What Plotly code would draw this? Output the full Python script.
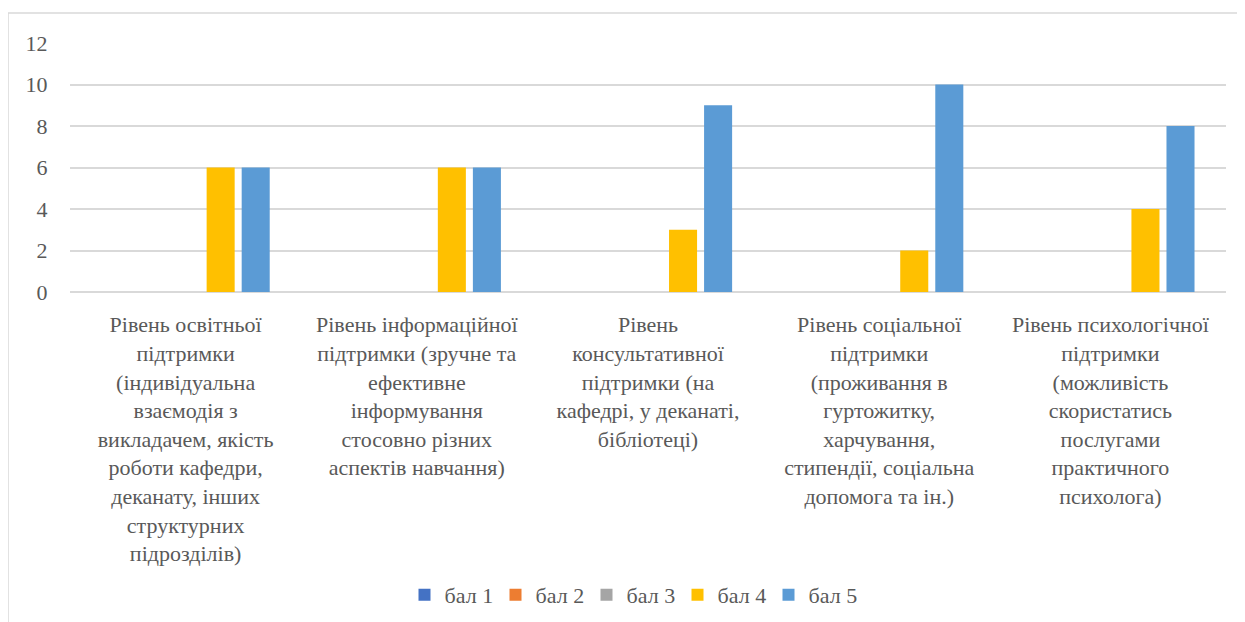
import plotly.graph_objects as go

categories = [
    "Рівень освітньої<br>підтримки<br>(індивідуальна<br>взаємодія з<br>викладачем, якість<br>роботи кафедри,<br>деканату, інших<br>структурних<br>підрозділів)",
    "Рівень інформаційної<br>підтримки (зручне та<br>ефективне<br>інформування<br>стосовно різних<br>аспектів навчання)",
    "Рівень<br>консультативної<br>підтримки (на<br>кафедрі, у деканаті,<br>бібліотеці)",
    "Рівень соціальної<br>підтримки<br>(проживання в<br>гуртожитку,<br>харчування,<br>стипендії, соціальна<br>допомога та ін.)",
    "Рівень психологічної<br>підтримки<br>(можливість<br>скористатись<br>послугами<br>практичного<br>психолога)",
]
series_names = ["бал 1", "бал 2", "бал 3", "бал 4", "бал 5"]
bal1 = [0, 0, 0, 0, 0]
bal2 = [0, 0, 0, 0, 0]
bal3 = [0, 0, 0, 0, 0]
bal4 = [6, 6, 3, 2, 4]
bal5 = [6, 6, 9, 10, 8]
colors = ["#4472C4", "#ED7D31", "#A5A5A5", "#FFC000", "#5B9BD5"]
y_ticks = [0, 2, 4, 6, 8, 10, 12]

FONT = '"Liberation Serif", serif'
FS = 22
OFF = 8  # page body margin
W, H = 1245 - OFF, 622 - OFF
L = 70 - OFF
R = 1245 - 1226
T = 43 - OFF
B = 622 - 292

fig = go.Figure()
for name, vals, c in zip(series_names, [bal1, bal2, bal3, bal4, bal5], colors):
    fig.add_trace(go.Bar(name=name, x=categories, y=vals, marker=dict(color=c, line=dict(width=0))))

pw = W - L - R
ph = H - T - B

def px_x(x):
    return (x - OFF - L) / pw

def px_y(y):
    return (H - B - (y - OFF)) / ph

fig.add_shape(type="rect", xref="paper", yref="paper",
              x0=px_x(8), x1=px_x(1260), y0=px_y(13), y1=px_y(640),
              line=dict(color="#D9D9D9", width=1.5), fillcolor="rgba(0,0,0,0)", layer="below")

fig.update_layout(
    width=W, height=H,
    margin=dict(l=L, r=R, t=T, b=B, pad=0, autoexpand=False),
    barmode="group", bargap=0.242, bargroupgap=0.2,
    plot_bgcolor="white", paper_bgcolor="white",
    font=dict(family=FONT, color="#595959", size=FS),
    legend=dict(orientation="h", x=px_x(632), xanchor="center", y=px_y(595), yanchor="middle",
                font=dict(family=FONT, size=FS, color="#595959"),
                itemwidth=30, entrywidth=46, traceorder="normal"),
    showlegend=True,
)
fig.update_xaxes(showgrid=False, showline=False, zeroline=False, automargin=False,
                 ticks="outside", ticklen=13, tickcolor="rgba(0,0,0,0)",
                 tickfont=dict(family=FONT, size=FS, color="#595959"), tickangle=0)
fig.update_yaxes(range=[0, 12], tickvals=y_ticks, showgrid=True, gridcolor="#D9D9D9", gridwidth=1.5,
                 zeroline=True, zerolinecolor="#D9D9D9", zerolinewidth=1.5, showline=False,
                 automargin=False,
                 ticks="outside", ticklen=17, tickcolor="rgba(0,0,0,0)",
                 tickfont=dict(family=FONT, size=FS, color="#595959"))

fig.write_html("out.html")
